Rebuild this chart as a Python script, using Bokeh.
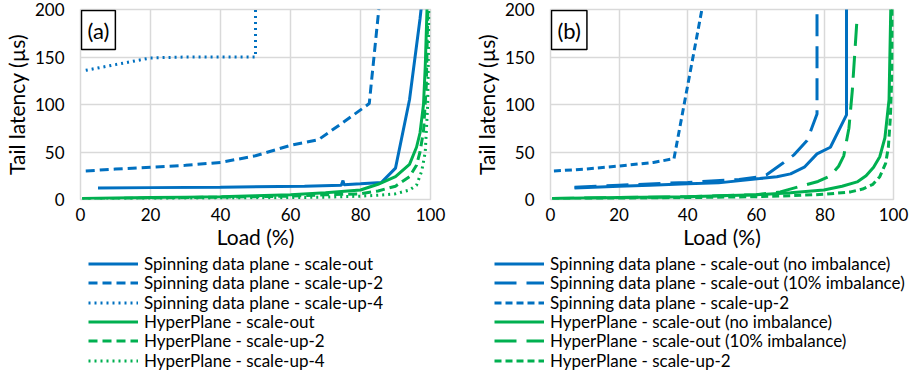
from bokeh.plotting import figure
from bokeh.models import Range1d, FixedTicker, Legend, LegendItem, Label
from bokeh.layouts import row, column
from bokeh.embed import file_html
from bokeh.resources import INLINE

BLUE = "#0070C0"
GREEN = "#00B050"
FONT = "Lato"

# ---------------- Panel (a) data ----------------
a_sdp_out_x = [5, 20, 40, 64, 74.5, 75, 75.3, 80, 86, 90, 94, 97, 97.6]
a_sdp_out_y = [12, 12.5, 13, 14, 15, 20, 15.5, 16.5, 18, 33, 105, 190, 210]
a_sdp_up2_x = [1.5, 10, 20, 30, 40, 50, 60, 68, 75, 82.5, 85.5]
a_sdp_up2_y = [30, 32, 34, 36, 39, 46, 57, 63, 81, 101, 210]
a_sdp_up4_x = [1.5, 10, 20, 30, 40, 50, 50]
a_sdp_up4_y = [136, 142, 149, 150, 150, 150, 200]
a_hp_out_x = [0.5, 10, 20, 30, 40, 50, 60, 70, 80, 85, 90, 94, 96, 97, 98, 98.5, 99, 99.3]
a_hp_out_y = [1, 1.5, 2, 2.5, 3, 4, 5, 7, 10, 16, 24, 37, 55, 70, 100, 140, 200, 230]
a_hp_up2_x = [0.5, 20, 40, 60, 70, 80, 85, 90, 94, 96, 97, 98, 98.8, 99.3]
a_hp_up2_y = [0.8, 1.5, 2.5, 3.5, 5, 6, 9, 14, 24, 36, 50, 72, 120, 210]
a_hp_up4_x = [0.5, 20, 40, 60, 70, 80, 85, 90, 94, 96, 97.5, 98.5, 99.2, 99.6]
a_hp_up4_y = [0.5, 1, 1.5, 2, 2.5, 3.5, 4.5, 6, 10, 15, 30, 50, 100, 210]

a_labels = [
    "Spinning data plane - scale-out",
    "Spinning data plane - scale-up-2",
    "Spinning data plane - scale-up-4",
    "HyperPlane - scale-out",
    "HyperPlane - scale-up-2",
    "HyperPlane - scale-up-4",
]

# ---------------- Panel (b) data ----------------
b_sdp_out_x = [7, 20, 29, 40, 49, 61, 66, 70, 74, 77.7, 81.6, 86.3, 86.3]
b_sdp_out_y = [12, 14, 15, 16.5, 17.5, 22, 24, 27, 34, 48, 55, 89, 210]
b_sdp_out10_x = [7, 20, 40, 55, 61, 63, 68, 71, 74.8, 77.7, 77.7]
b_sdp_out10_y = [13, 15, 18, 21, 24, 26, 39, 47, 62, 90, 210]
b_sdp_up2_x = [1, 10, 19.4, 30, 36, 44.4]
b_sdp_up2_y = [30, 32, 35, 39, 43, 205]
b_hp_out_x = [0.5, 20, 40, 60, 70, 79.7, 85, 89.4, 92, 94.2, 96, 97.5, 98.7, 99.2, 99.4]
b_hp_out_y = [1, 2, 3, 5, 7, 10, 14, 18.5, 25, 34, 45, 65, 105, 200, 230]
b_hp_out10_x = [0.5, 20, 40, 60, 67, 73.9, 78, 81.6, 84, 85.5, 87, 88, 89.4]
b_hp_out10_y = [1, 2, 3, 5, 8, 15, 19, 25, 35, 46, 75, 115, 192]
b_hp_up2_x = [0.5, 20, 40, 60, 70, 80, 87.5, 91, 94, 96, 97.7, 98.5, 99.1, 99.6, 99.8]
b_hp_up2_y = [0.5, 1, 2, 3, 4, 5.5, 8, 11, 16, 24, 38, 55, 87, 140, 210]

b_labels = [
    "Spinning data plane - scale-out (no imbalance)",
    "Spinning data plane - scale-out (10% imbalance)",
    "Spinning data plane - scale-up-2",
    "HyperPlane - scale-out (no imbalance)",
    "HyperPlane - scale-out (10% imbalance)",
    "HyperPlane - scale-up-2",
]

x_ticks = [0, 20, 40, 60, 80, 100]
y_ticks = [0, 50, 100, 150, 200]

PLOT_H = 253
LEG_H = 374 - PLOT_H
ROW_STEP = 19.3


def make_panel(width, left, right, tag, series, labels, legend_x):
    p = figure(width=width, height=PLOT_H, output_backend="svg", toolbar_location=None,
               x_range=Range1d(0, 100), y_range=Range1d(0, 200),
               min_border_left=left, min_border_right=right, min_border_top=9,
               min_border_bottom=PLOT_H - 199)
    p.frame_align = False
    p.background_fill_color = "white"
    p.border_fill_color = "white"
    p.outline_line_color = "#d9d9d9"
    p.outline_line_width = 1.5
    for ax in (p.xaxis[0], p.yaxis[0]):
        ax.axis_line_color = None
        ax.major_tick_line_color = None
        ax.minor_tick_line_color = None
        ax.major_tick_out = 0
        ax.major_tick_in = 0
        ax.major_label_text_font = FONT
        ax.major_label_text_font_size = "17px"
        ax.major_label_text_color = "#000000"
        ax.axis_label_text_font = FONT
        ax.axis_label_text_font_size = "21px"
        ax.axis_label_text_font_style = "normal"
        ax.axis_label_text_color = "#000000"
    p.xaxis.ticker = FixedTicker(ticks=x_ticks)
    p.yaxis.ticker = FixedTicker(ticks=y_ticks)
    p.xaxis.axis_label = "Load (%)"
    p.yaxis.axis_label = "Tail latency (µs)"
    p.xaxis.major_label_standoff = 8
    p.yaxis.major_label_standoff = 16
    p.xaxis.axis_label_standoff = 0
    p.yaxis.axis_label_standoff = 3
    p.grid.grid_line_color = "#d9d9d9"
    p.grid.grid_line_width = 1.5

    lf = figure(width=width, height=LEG_H, output_backend="svg", toolbar_location=None,
                x_range=Range1d(0, 1), y_range=Range1d(0, 1),
                min_border=0, outline_line_color=None)
    lf.frame_align = False
    lf.axis.visible = False
    lf.grid.visible = False
    lf.background_fill_color = "white"
    lf.border_fill_color = "white"

    for i, ((xs, ys, color, dash), lab) in enumerate(zip(series, labels)):
        p.line(xs, ys, line_color=color, line_width=3, line_dash=dash)
        r = lf.line([5, 6], [5, 6], line_color=color, line_width=3, line_dash=dash)
        ybot = LEG_H - (0.5 + ROW_STEP * i + 20.5)
        legend = Legend(items=[LegendItem(label=lab, renderers=[r])],
                        location=(legend_x, ybot), orientation="vertical")
        legend.label_text_font = FONT
        legend.label_text_font_size = "17px"
        legend.label_text_color = "#000000"
        legend.label_height = 19
        legend.glyph_height = 19
        legend.glyph_width = 50
        legend.label_standoff = 6
        legend.spacing = 0
        legend.padding = 0
        legend.margin = 0
        legend.border_line_color = None
        legend.background_fill_alpha = 0
        lf.add_layout(legend)

    lbl = Label(x=0, y=200, text=tag, anchor="top_left",
                text_font=FONT, text_font_size="22px", text_color="#000000",
                border_line_color="#000000", border_line_width=1.5,
                background_fill_color="white", padding=6,
                x_offset=1, y_offset=-1)
    p.add_layout(lbl)
    return column(p, lf, spacing=0)


series_a = [
    (a_sdp_out_x, a_sdp_out_y, BLUE, "solid"),
    (a_sdp_up2_x, a_sdp_up2_y, BLUE, "9 5"),
    (a_sdp_up4_x, a_sdp_up4_y, BLUE, "2 4"),
    (a_hp_out_x, a_hp_out_y, GREEN, "solid"),
    (a_hp_up2_x, a_hp_up2_y, GREEN, "9 5"),
    (a_hp_up4_x, a_hp_up4_y, GREEN, "2 4"),
]
series_b = [
    (b_sdp_out_x, b_sdp_out_y, BLUE, "solid"),
    (b_sdp_out10_x, b_sdp_out10_y, BLUE, "22 10"),
    (b_sdp_up2_x, b_sdp_up2_y, BLUE, "7 4"),
    (b_hp_out_x, b_hp_out_y, GREEN, "solid"),
    (b_hp_out10_x, b_hp_out10_y, GREEN, "22 10"),
    (b_hp_up2_x, b_hp_up2_y, GREEN, "7 4"),
]

pa = make_panel(450, 80, 20, "(a)", series_a, a_labels, 88)
pb = make_panel(459, 100, 16, "(b)", series_b, b_labels, 44)

layout = row(pa, pb, spacing=0)
open("out.html", "w").write(file_html(layout, INLINE))
